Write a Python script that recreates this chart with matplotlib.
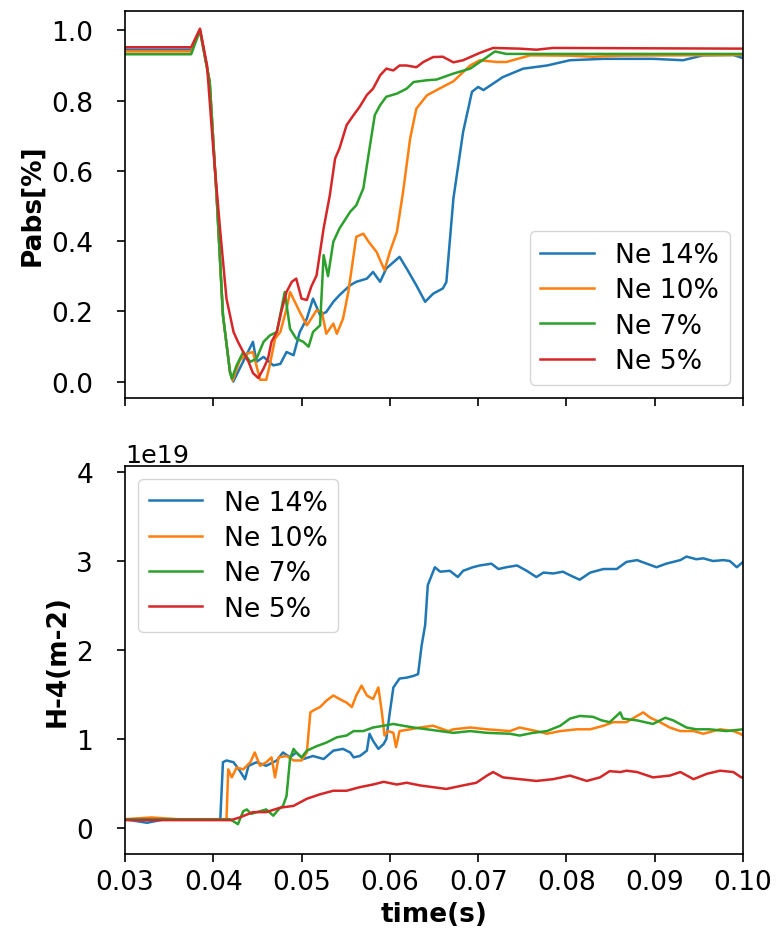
import numpy as np
import matplotlib
matplotlib.use("Agg")
import matplotlib.pyplot as plt

# absorbed power fraction vs time, (t [s], Pabs)
PABS_NE14 = [(0.030, 0.945), (0.0375, 0.945), (0.0385, 1.0), (0.0396, 0.853), (0.0404, 0.521),
             (0.0411, 0.189), (0.0419, 0.027), (0.04227, 0.0), (0.0430, 0.037), (0.0445, 0.113),
             (0.0449, 0.056), (0.0457, 0.070), (0.0468, 0.046), (0.0476, 0.050), (0.0483, 0.084),
             (0.0491, 0.075), (0.0498, 0.141), (0.0506, 0.179), (0.0513, 0.236), (0.0521, 0.189),
             (0.0528, 0.198), (0.0536, 0.227), (0.0543, 0.246), (0.0555, 0.274), (0.0562, 0.284),
             (0.0574, 0.293), (0.0581, 0.312), (0.0589, 0.284), (0.0596, 0.322), (0.0611, 0.355),
             (0.0619, 0.322), (0.0630, 0.274), (0.0640, 0.227), (0.0649, 0.250), (0.0660, 0.265),
             (0.0664, 0.283), (0.0672, 0.521), (0.0683, 0.711), (0.0693, 0.825), (0.0700, 0.839),
             (0.0706, 0.830), (0.0728, 0.867), (0.0751, 0.891), (0.0778, 0.900), (0.0804, 0.915),
             (0.0842, 0.919), (0.0898, 0.919), (0.0932, 0.915), (0.0955, 0.929), (0.0989, 0.930),
             (0.1000, 0.921)]
PABS_NE10 = [(0.030, 0.94), (0.0375, 0.94), (0.0385, 1.0), (0.0396, 0.853), (0.0404, 0.521),
             (0.0411, 0.189), (0.0419, 0.027), (0.0422, 0.003), (0.0430, 0.060), (0.0438, 0.079),
             (0.0445, 0.084), (0.0453, 0.005), (0.0460, 0.005), (0.0464, 0.046), (0.0470, 0.122),
             (0.0476, 0.141), (0.0483, 0.207), (0.0487, 0.255), (0.0498, 0.198), (0.0506, 0.160),
             (0.0511, 0.179), (0.0517, 0.203), (0.0523, 0.198), (0.0528, 0.136), (0.0536, 0.165),
             (0.0540, 0.136), (0.0547, 0.179), (0.0553, 0.255), (0.0559, 0.360), (0.0562, 0.412),
             (0.0570, 0.421), (0.0576, 0.398), (0.0585, 0.369), (0.0594, 0.317), (0.0600, 0.369),
             (0.0608, 0.426), (0.0615, 0.540), (0.0623, 0.692), (0.0630, 0.777), (0.0642, 0.815),
             (0.0653, 0.830), (0.0672, 0.855), (0.0691, 0.900), (0.0702, 0.915), (0.0721, 0.910),
             (0.0732, 0.910), (0.0759, 0.929), (0.0804, 0.928), (0.0830, 0.925), (0.0861, 0.928),
             (0.1000, 0.930)]
PABS_NE7 = [(0.030, 0.932), (0.0375, 0.932), (0.0385, 1.0), (0.0396, 0.853), (0.0404, 0.521),
            (0.0411, 0.189), (0.0419, 0.027), (0.0421, 0.008), (0.04265, 0.046), (0.0434, 0.084),
            (0.0442, 0.056), (0.0449, 0.065), (0.0457, 0.113), (0.0464, 0.131), (0.0472, 0.141),
            (0.0481, 0.255), (0.0487, 0.150), (0.0494, 0.122), (0.0502, 0.113), (0.0508, 0.099),
            (0.0513, 0.141), (0.0521, 0.160), (0.0525, 0.360), (0.0530, 0.300), (0.0536, 0.398),
            (0.0543, 0.436), (0.0555, 0.483), (0.0562, 0.502), (0.0570, 0.550), (0.0577, 0.664),
            (0.0583, 0.759), (0.0589, 0.787), (0.0596, 0.811), (0.0608, 0.820), (0.0619, 0.834),
            (0.0627, 0.853), (0.0642, 0.858), (0.0653, 0.860), (0.0672, 0.877), (0.0691, 0.891),
            (0.0710, 0.924), (0.0719, 0.940), (0.0732, 0.933), (0.1000, 0.933)]
PABS_NE5 = [(0.030, 0.952), (0.0375, 0.952), (0.0385, 1.005), (0.0393, 0.900), (0.0400, 0.663),
            (0.0408, 0.426), (0.0415, 0.236), (0.0423, 0.141), (0.0428, 0.113), (0.0434, 0.084),
            (0.0440, 0.056), (0.0445, 0.024), (0.0451, 0.010), (0.0457, 0.037), (0.0462, 0.065),
            (0.0466, 0.113), (0.0472, 0.141), (0.0477, 0.198), (0.0483, 0.255), (0.0489, 0.284),
            (0.0494, 0.293), (0.0500, 0.236), (0.0506, 0.232), (0.0511, 0.270), (0.0517, 0.302),
            (0.0525, 0.436), (0.0532, 0.530), (0.0538, 0.635), (0.0543, 0.664), (0.0551, 0.730),
            (0.0559, 0.759), (0.0566, 0.783), (0.0574, 0.816), (0.0581, 0.834), (0.0589, 0.872),
            (0.0596, 0.891), (0.0604, 0.886), (0.0611, 0.900), (0.0619, 0.900), (0.0630, 0.895),
            (0.0638, 0.910), (0.0649, 0.924), (0.0660, 0.925), (0.0672, 0.909), (0.0683, 0.915),
            (0.0702, 0.936), (0.0717, 0.950), (0.0747, 0.948), (0.0766, 0.945), (0.0785, 0.950),
            (0.1000, 0.948)]

# H-4 line density, (t [s], value in units of 1e19 m^-2)
H4_NE14 = [(0.030, 0.10), (0.0325, 0.06), (0.0345, 0.10), (0.0408, 0.10), (0.0411, 0.74),
           (0.0415, 0.76), (0.0423, 0.74), (0.0430, 0.645), (0.0436, 0.55), (0.0440, 0.70),
           (0.0449, 0.74), (0.0460, 0.70), (0.0472, 0.76), (0.0479, 0.85), (0.0487, 0.795),
           (0.0494, 0.85), (0.0502, 0.776), (0.0513, 0.81), (0.0525, 0.776), (0.0536, 0.87),
           (0.0547, 0.89), (0.0555, 0.85), (0.0559, 0.795), (0.0566, 0.81), (0.0574, 0.87),
           (0.0577, 1.06), (0.0581, 0.98), (0.0587, 0.89), (0.0593, 0.945), (0.0596, 1.0),
           (0.0600, 1.30), (0.0604, 1.58), (0.0611, 1.68), (0.0619, 1.69), (0.0627, 1.71),
           (0.0632, 1.73), (0.0636, 2.05), (0.0640, 2.28), (0.0643, 2.73), (0.0651, 2.93),
           (0.0657, 2.88), (0.0668, 2.89), (0.0677, 2.82), (0.0683, 2.89), (0.0694, 2.93),
           (0.0702, 2.95), (0.0715, 2.97), (0.0723, 2.91), (0.0732, 2.93), (0.0744, 2.95),
           (0.0755, 2.89), (0.0766, 2.82), (0.0774, 2.87), (0.0785, 2.86), (0.0796, 2.88),
           (0.0804, 2.84), (0.0815, 2.79), (0.0827, 2.87), (0.0842, 2.91), (0.0857, 2.91),
           (0.0868, 2.99), (0.0880, 3.01), (0.0891, 2.97), (0.0902, 2.93), (0.0913, 2.97),
           (0.0929, 3.01), (0.0936, 3.05), (0.0947, 3.02), (0.0955, 3.03), (0.0966, 3.00),
           (0.0978, 3.01), (0.0985, 3.00), (0.0993, 2.93), (0.1000, 2.99)]
H4_NE10 = [(0.030, 0.10), (0.0330, 0.12), (0.0360, 0.10), (0.0415, 0.10), (0.0417, 0.66),
           (0.0421, 0.57), (0.04265, 0.68), (0.0434, 0.66), (0.0442, 0.74), (0.0447, 0.85),
           (0.0453, 0.70), (0.0460, 0.74), (0.0466, 0.795), (0.0470, 0.57), (0.0474, 0.795),
           (0.0483, 0.81), (0.0491, 0.76), (0.0500, 0.76), (0.0506, 0.85), (0.0510, 1.30),
           (0.0513, 1.32), (0.0521, 1.36), (0.0528, 1.43), (0.0536, 1.49), (0.0543, 1.45),
           (0.0551, 1.41), (0.0557, 1.36), (0.0562, 1.49), (0.0568, 1.60), (0.0574, 1.49),
           (0.0581, 1.45), (0.0587, 1.58), (0.0591, 1.30), (0.0594, 1.04), (0.0598, 1.09),
           (0.0604, 1.07), (0.0607, 0.91), (0.0611, 1.09), (0.0623, 1.11), (0.0634, 1.13),
           (0.0649, 1.15), (0.0666, 1.09), (0.0672, 1.11), (0.0691, 1.13), (0.0710, 1.11),
           (0.0736, 1.09), (0.0747, 1.13), (0.0766, 1.09), (0.0778, 1.06), (0.0793, 1.09),
           (0.0812, 1.11), (0.0827, 1.11), (0.0842, 1.15), (0.0853, 1.19), (0.0868, 1.19),
           (0.0880, 1.26), (0.0887, 1.30), (0.0895, 1.24), (0.0906, 1.19), (0.0917, 1.13),
           (0.0929, 1.09), (0.0944, 1.09), (0.0955, 1.06), (0.0974, 1.11), (0.0989, 1.09),
           (0.0997, 1.06), (0.1000, 1.04)]
H4_NE7 = [(0.030, 0.10), (0.0419, 0.10), (0.0428, 0.045), (0.0434, 0.19), (0.0438, 0.21),
          (0.0443, 0.16), (0.0453, 0.19), (0.0460, 0.21), (0.0468, 0.14), (0.0474, 0.21),
          (0.0479, 0.25), (0.0483, 0.36), (0.0487, 0.78), (0.0491, 0.89), (0.0494, 0.85),
          (0.0500, 0.795), (0.0506, 0.87), (0.0517, 0.92), (0.0528, 0.96), (0.0540, 1.02),
          (0.0551, 1.04), (0.0559, 1.09), (0.0570, 1.09), (0.0581, 1.13), (0.0593, 1.15),
          (0.0604, 1.17), (0.0615, 1.15), (0.0627, 1.13), (0.0642, 1.11), (0.0657, 1.09),
          (0.0672, 1.07), (0.0691, 1.09), (0.0710, 1.07), (0.0736, 1.06), (0.0747, 1.04),
          (0.0762, 1.07), (0.0778, 1.09), (0.0793, 1.15), (0.0804, 1.23), (0.0815, 1.26),
          (0.0830, 1.25), (0.0840, 1.21), (0.0849, 1.19), (0.0861, 1.30), (0.0864, 1.23),
          (0.0880, 1.21), (0.0898, 1.17), (0.0912, 1.24), (0.0921, 1.21), (0.0936, 1.13),
          (0.0947, 1.11), (0.0962, 1.11), (0.0981, 1.09), (0.1000, 1.11)]
H4_NE5 = [(0.030, 0.09), (0.0420, 0.09), (0.0430, 0.12), (0.0445, 0.18), (0.0460, 0.18),
          (0.0476, 0.23), (0.0491, 0.25), (0.0506, 0.33), (0.0521, 0.38), (0.0536, 0.42),
          (0.0551, 0.42), (0.0566, 0.46), (0.0581, 0.49), (0.0593, 0.52), (0.0608, 0.49),
          (0.0619, 0.51), (0.0634, 0.48), (0.0649, 0.46), (0.0664, 0.44), (0.0683, 0.48),
          (0.0698, 0.51), (0.0710, 0.59), (0.0717, 0.63), (0.0728, 0.57), (0.0747, 0.55),
          (0.0766, 0.53), (0.0785, 0.55), (0.0804, 0.59), (0.0823, 0.53), (0.0838, 0.57),
          (0.0849, 0.64), (0.0861, 0.63), (0.0868, 0.645), (0.0880, 0.63), (0.0898, 0.57),
          (0.0917, 0.59), (0.0929, 0.63), (0.0944, 0.55), (0.0959, 0.61), (0.0974, 0.645),
          (0.0989, 0.63), (0.0998, 0.57), (0.1000, 0.57)]

LABELS = ["Ne 14%", "Ne 10%", "Ne 7%", "Ne 5%"]
COLORS = ["#1f77b4", "#ff7f0e", "#2ca02c", "#d62728"]
XTICKS = [0.03, 0.04, 0.05, 0.06, 0.07, 0.08, 0.09, 0.10]

FS = 19
LEG_FS = 19.2
plt.rcParams.update({
    "font.family": "DejaVu Sans",
    "font.size": FS,
    "axes.linewidth": 1.2,
    "xtick.major.size": 6,
    "ytick.major.size": 6,
    "xtick.major.width": 1.2,
    "ytick.major.width": 1.2,
    "xtick.major.pad": 5,
    "ytick.major.pad": 17,
})

fig = plt.figure(figsize=(7.76, 9.29), dpi=100)
ax1 = fig.add_axes([0.161, 0.5705, 0.7965, 0.4165])
ax2 = fig.add_axes([0.161, 0.0797, 0.7965, 0.4179], sharex=ax1)

for data, lab, c in zip([PABS_NE14, PABS_NE10, PABS_NE7, PABS_NE5], LABELS, COLORS):
    t, v = np.array(data).T
    ax1.plot(t, v, color=c, lw=1.8, label=lab)

for data, lab, c in zip([H4_NE14, H4_NE10, H4_NE7, H4_NE5], LABELS, COLORS):
    t, v = np.array(data).T
    ax2.plot(t, v * 1e19, color=c, lw=1.8, label=lab)

ax1.set_xlim(0.03, 0.10)
ax1.set_ylim(-0.047, 1.055)
ax1.set_yticks([0.0, 0.2, 0.4, 0.6, 0.8, 1.0])
ax1.tick_params(labelbottom=False)
ax1.set_ylabel("Pabs[%]", fontweight="bold", fontsize=FS)
ax1.legend(loc="lower right", fontsize=LEG_FS, labelspacing=0.35)

ax2.set_ylim(-0.29e19, 4.07e19)
ax2.set_yticks(np.arange(0, 5) * 1e19)
ax2.set_xticks(XTICKS)
ax2.set_xticklabels([f"{x:.2f}" for x in XTICKS])
ax2.set_ylabel("H-4(m-2)", fontweight="bold", fontsize=FS)
ax2.set_xlabel("time(s)", fontweight="bold", fontsize=FS)
ax2.yaxis.get_offset_text().set_fontsize(18.3)
ax2.legend(loc="upper left", fontsize=LEG_FS, labelspacing=0.35)

fig.savefig("out.png", dpi=100)
